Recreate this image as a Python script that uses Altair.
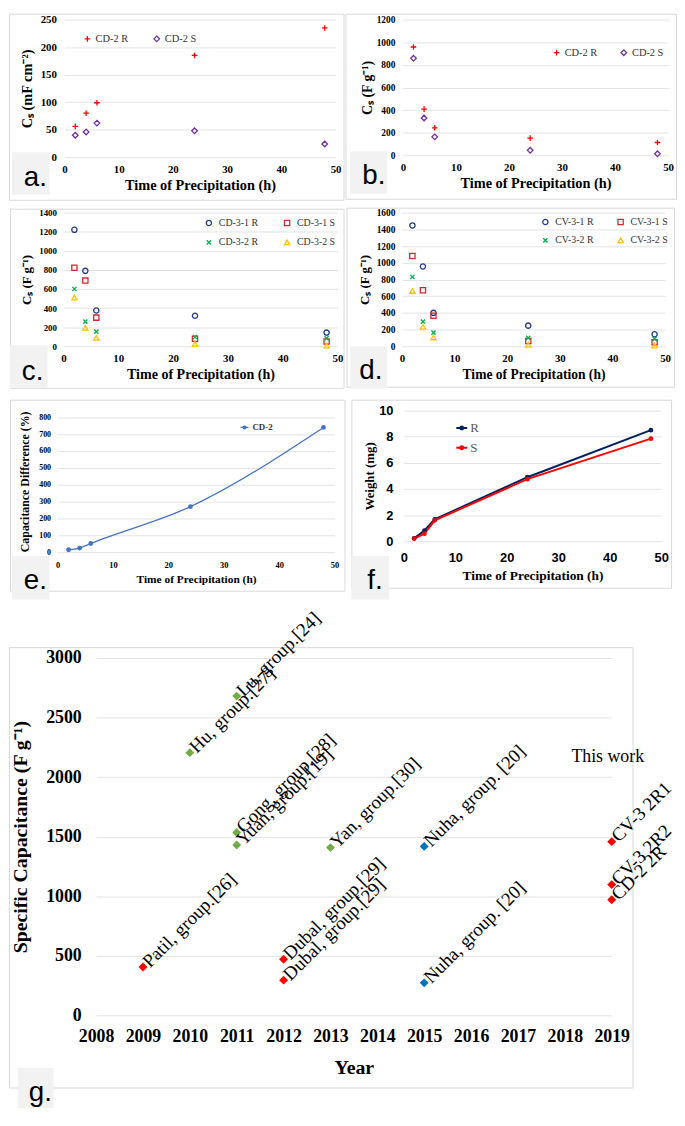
import altair as alt
import pandas as pd

SERIF = "Liberation Serif"
SANS = "Liberation Sans"
BLACK = "#000000"
GRID = "#e3e3e3"
FRAME = "#d9d9d9"
BOX = "#f2f2f2"

# ---------------- data ----------------
hours = [2, 4, 6, 24, 48]
time_ticks = [0, 10, 20, 30, 40, 50]
time_title = "Time of Precipitation (h)"

a_names = ["CD-2 R", "CD-2 S"]
a_R = [56, 80, 99, 185, 235]
a_S = [40, 46, 62, 48, 24]
a_ticks = [0, 50, 100, 150, 200, 250]

b_names = ["CD-2 R", "CD-2 S"]
b_R = [958, 408, 243, 152, 113]
b_S = [858, 330, 163, 44, 13]
b_ticks = [0, 200, 400, 600, 800, 1000, 1200]

c_names = ["CD-3-1 R", "CD-3-1 S", "CD-3-2 R", "CD-3-2 S"]
c_31R = [1220, 790, 375, 320, 143]
c_31S = [822, 688, 300, 78, 50]
c_32R = [600, 258, 153, 97, 85]
c_32S = [510, 193, 88, 22, 6]
c_ticks = [0, 200, 400, 600, 800, 1000, 1200, 1400]

d_names = ["CV-3-1 R", "CV-3-1 S", "CV-3-2 R", "CV-3-2 S"]
d_31R = [1447, 955, 400, 247, 143]
d_31S = [1082, 670, 365, 63, 48]
d_32R = [830, 295, 163, 100, 88]
d_32S = [662, 232, 105, 18, 8]
d_ticks = [0, 200, 400, 600, 800, 1000, 1200, 1400, 1600]

e_name = "CD-2"
e_diff = [14, 24, 51, 270, 740]
e_ticks = [0, 100, 200, 300, 400, 500, 600, 700, 800]

f_names = ["R", "S"]
f_R = [0.22, 0.82, 1.68, 4.9, 8.5]
f_S = [0.2, 0.58, 1.6, 4.75, 7.85]
f_ticks = [0, 2, 4, 6, 8, 10]

g_labels = ["Patil, group.[26]", "Hu, group.[27]", "Lu, group.[24]", "Gong, group.[28]",
            "Yuan, group.[19]", "Dubal, group.[29]", "Dubal, group.[29]", "Yan, group.[30]",
            "Nuha, group. [20]", "Nuha, group. [20]", "CV-3 2R1", "CV-3 2R2", "CD-2 2R"]
g_years = [2009, 2010, 2011, 2011, 2011, 2012, 2012, 2013, 2015, 2015, 2019, 2019, 2019]
g_values = [405, 2205, 2680, 1535, 1430, 470, 295, 1408, 1418, 272, 1458, 1097, 970]
g_kind = ["B", "A", "A", "A", "A", "B", "B", "A", "C", "C", "B", "B", "B"]
g_kinds = ["A", "B", "C"]
g_year_ticks = [2008, 2009, 2010, 2011, 2012, 2013, 2014, 2015, 2016, 2017, 2018, 2019]
g_ticks = [0, 500, 1000, 1500, 2000, 2500, 3000]
note_text = ["This work"]
note_year = [2019]
note_value = [2170]

PLUS = "M-1,0L1,0M0,-1L0,1"
XMARK = "M-0.8,-0.8L0.8,0.8M-0.8,0.8L0.8,-0.8"

ONE = pd.DataFrame({"k": [0]})


def long_df(names, series):
    rows = []
    for name, vals in zip(names, series):
        for h, v in zip(hours, vals):
            rows.append({"h": h, "v": v, "s": name})
    return pd.DataFrame(rows)


def rect_layer(x1, x2, y1, y2, **mark):
    return alt.Chart(ONE).mark_rect(**mark).encode(
        x=alt.value(x1), x2=alt.value(x2), y=alt.value(y1), y2=alt.value(y2))


def spacer():
    return rect_layer(0, 1, 0, 1, opacity=0).properties(width=1, height=1)


def decor(bounds, frame, lbox, letter, lpos):
    return [
        rect_layer(*bounds, opacity=0),
        rect_layer(*frame, fillOpacity=0, stroke=FRAME, strokeWidth=1),
        rect_layer(*lbox, color=BOX),
        alt.Chart(ONE).mark_text(text=letter, font=SANS, fontSize=28, align="left",
                                 baseline="alphabetic", color=BLACK).encode(
            x=alt.value(lpos[0]), y=alt.value(lpos[1])),
    ]


def x_axis(title, lab_size, title_size, title_y, values, lab_pad=6, lab_font=SERIF):
    return alt.Axis(title=title, values=values, format="d", labelFont=lab_font,
                    labelFontSize=lab_size, labelFontWeight="bold", labelColor=BLACK,
                    labelPadding=lab_pad, labelFlush=False, labelOverlap=False, ticks=False,
                    tickSize=0, domain=False, grid=False, titleFont=SERIF,
                    titleFontSize=title_size, titleFontWeight="bold", titleColor=BLACK,
                    titleY=title_y, titleBaseline="middle", titleAlign="center")


def y_axis(title, lab_size, title_size, title_x, h, values, lab_pad=8, lab_font=SERIF):
    return alt.Axis(title=title, values=values, format="d", labelFont=lab_font,
                    labelFontSize=lab_size, labelFontWeight="bold", labelColor=BLACK,
                    labelPadding=lab_pad, labelFlush=False, labelOverlap=False, ticks=False,
                    tickSize=0, domain=False, grid=True, gridColor=GRID, gridWidth=1,
                    titleFont=SERIF, titleFontSize=title_size, titleFontWeight="bold",
                    titleColor=BLACK, titleX=title_x, titleY=h / 2, titleAngle=270,
                    titleAlign="center", titleBaseline="middle")


def scatter_panel(names, series, colors, shapes, size, w, h, ymax, yticks, ytitle,
                  ylab, ytitle_size, ytitle_x, ylab_pad, xlab, xtitle_size, legend_kw, deco):
    df = long_df(names, series)
    leg = alt.Legend(title=None, orient="none", padding=0, labelFont=SERIF,
                     labelColor="#333333", symbolStrokeWidth=1.3, symbolSize=size, **legend_kw)
    pts = alt.Chart(df).mark_point(filled=False, strokeWidth=1.3, size=size, opacity=1).encode(
        x=alt.X("h:Q", scale=alt.Scale(domain=[0, 50], nice=False),
                axis=x_axis(time_title, xlab, xtitle_size, 29, time_ticks)),
        y=alt.Y("v:Q", scale=alt.Scale(domain=[0, ymax], nice=False),
                axis=y_axis(ytitle, ylab, ytitle_size, ytitle_x, h, yticks, ylab_pad)),
        color=alt.Color("s:N", scale=alt.Scale(domain=names, range=colors), legend=leg),
        shape=alt.Shape("s:N", scale=alt.Scale(domain=names, range=shapes), legend=leg),
    )
    return alt.layer(*deco, pts).properties(width=w, height=h)


# ---------------- panel a ----------------
pa = scatter_panel(
    a_names, [a_R, a_S], ["#FF0000", "#7030A0"], [PLUS, "diamond"], 32, 274, 139, 250, a_ticks,
    "Cₛ (mF cm⁻²)", 11, 14.5, -37, 8, 11, 14.5,
    dict(legendX=18, legendY=14, direction="horizontal", labelFontSize=10.5, labelOffset=3,
         columnPadding=22),
    decor((-56, 284, -6, 189), (-55.5, 282.5, -5.5, 182.5), (-53, -15, 134, 177), "a.", (-41, 168)))

# ---------------- panel b ----------------
pb = scatter_panel(
    b_names, [b_R, b_S], ["#FF0000", "#7030A0"], [PLUS, "diamond"], 32, 268, 137, 1200, b_ticks,
    "Cₛ (F g⁻¹)", 9.5, 14, -36, 8, 11, 14.5,
    dict(legendX=150, legendY=28, direction="horizontal", labelFontSize=10.5, labelOffset=3,
         columnPadding=20),
    decor((-58, 277, -6, 189), (-57.5, 276.5, -5.5, 181.5), (-53, -16, 133, 176), "b.", (-41, 166)))

# ---------------- panel c ----------------
pc = scatter_panel(
    c_names, [c_31R, c_31S, c_32R, c_32S], ["#203A8F", "#D9262E", "#00B050", "#FFC000"],
    ["circle", "square", XMARK, "triangle-up"], 28, 277, 135, 1400, c_ticks,
    "Cₛ (F g⁻¹)", 9, 13, -37, 7, 11, 14.2,
    dict(legendX=142, legendY=5, direction="horizontal", columns=2, labelFontSize=10,
         labelOffset=5, columnPadding=23, rowPadding=9),
    decor((-55, 286, -6, 188), (-53.5, 283.5, -3.5, 177.5), (-54, -16, 134, 177), "c.", (-42, 169)))

# ---------------- panel d ----------------
pd_ = scatter_panel(
    d_names, [d_31R, d_31S, d_32R, d_32S], ["#203A8F", "#D9262E", "#00B050", "#FFC000"],
    ["circle", "square", XMARK, "triangle-up"], 28, 266, 135, 1600, d_ticks,
    "Cₛ (F g⁻¹)", 9.5, 13, -38, 7, 11, 13.7,
    dict(legendX=140, legendY=4, direction="horizontal", columns=2, labelFontSize=10,
         labelOffset=5, columnPadding=21, rowPadding=8),
    decor((-56, 278, -6, 188), (-55.5, 275.5, -4.5, 176.5), (-52, -15, 135, 178), "d.", (-43, 168)))

# ---------------- panel e ----------------
E_W, E_H = 280, 143
e_df = pd.DataFrame({"h": hours, "v": e_diff, "s": [e_name] * len(hours)})
e_x = alt.X("h:Q", scale=alt.Scale(domain=[0, 50], nice=False),
            axis=x_axis(time_title, 8.5, 11.5, 28, time_ticks, lab_pad=9))
e_y = alt.Y("v:Q", scale=alt.Scale(domain=[0, 840], nice=False),
            axis=y_axis("Capacitance Difference (%)", 8, 12, -33, E_H, e_ticks, 7))
e_scale = alt.Scale(domain=[e_name], range=["#4472C4"])
E_SYM = ("M-1,0L1,0M-0.35,0A0.35,0.35 0 1,1 0.35,0A0.35,0.35 0 1,1 -0.35,0"
         "M-0.12,0A0.12,0.12 0 1,1 0.12,0A0.12,0.12 0 1,1 -0.12,0")
e_leg = alt.Legend(title=None, orient="none", legendX=184, legendY=12, padding=0,
                   symbolType=E_SYM, symbolSize=64, symbolStrokeWidth=1.3,
                   labelFont=SERIF, labelFontSize=9, labelFontWeight="bold",
                   labelColor="#333333", labelOffset=3)
e_line = alt.Chart(e_df).mark_line(interpolate="monotone", strokeWidth=1.3).encode(
    x=e_x, y=e_y, color=alt.Color("s:N", scale=e_scale, legend=e_leg))
e_pts = alt.Chart(e_df).mark_point(filled=False, size=6, strokeWidth=2.4, opacity=1).encode(
    x=e_x, y=e_y, color=alt.Color("s:N", scale=e_scale, legend=e_leg))
pe = alt.layer(*decor((-49, 297, -12, 192), (-47.5, 290.5, -10.5, 182.5), (-46, -8, 147, 191),
                      "e.", (-34, 180)), e_line, e_pts).properties(width=E_W, height=E_H)

# ---------------- panel f ----------------
F_W, F_H = 260, 132
f_df = long_df(f_names, [f_R, f_S])
f_x = alt.X("h:Q", scale=alt.Scale(domain=[0, 50], nice=False),
            axis=x_axis(time_title, 13, 13.5, 35, time_ticks, lab_pad=11, lab_font=SANS))
f_y = alt.Y("v:Q", scale=alt.Scale(domain=[0, 10], nice=False),
            axis=y_axis("Weight (mg)", 13, 13, -35, F_H, f_ticks, 11, lab_font=SANS))
f_scale = alt.Scale(domain=f_names, range=["#002060", "#FF0000"])
F_SYM = ("M-1,0L1,0M-0.27,0A0.27,0.27 0 1,1 0.27,0A0.27,0.27 0 1,1 -0.27,0"
         "M-0.08,0A0.08,0.08 0 1,1 0.08,0A0.08,0.08 0 1,1 -0.08,0")
f_leg = alt.Legend(title=None, orient="none", legendX=52, legendY=11, padding=0,
                   direction="vertical", symbolType=F_SYM, symbolSize=121, symbolStrokeWidth=2,
                   labelFont=SERIF, labelFontSize=13, labelColor="#595959", labelOffset=2,
                   rowPadding=6)
f_line = alt.Chart(f_df).mark_line(strokeWidth=2).encode(
    x=f_x, y=f_y, color=alt.Color("s:N", scale=f_scale, legend=f_leg))
f_pts = alt.Chart(f_df).mark_point(filled=False, size=4, strokeWidth=2.8, opacity=1).encode(
    x=f_x, y=f_y, color=alt.Color("s:N", scale=f_scale, legend=f_leg))
pf = alt.layer(*decor((-53, 276, -12, 192), (-52.5, 270.5, -10.5, 179.5), (-53, -15, 147, 191),
                      "f.", (-37, 180)), f_line, f_pts).properties(width=F_W, height=F_H)

# ---------------- panel g ----------------
G_W, G_H = 521, 361
g_df = pd.DataFrame({"year": g_years, "cap": g_values, "label": g_labels, "kind": g_kind})
note_df = pd.DataFrame({"year": note_year, "cap": note_value, "label": note_text})
g_x = alt.X("year:Q", scale=alt.Scale(domain=[2008, 2019], nice=False),
            axis=x_axis("Year", 18, 20, 53, g_year_ticks, lab_pad=13))
g_y = alt.Y("cap:Q", scale=alt.Scale(domain=[0, 3000], nice=False),
            axis=y_axis("Specific Capacitance (F g⁻¹)", 18, 20, -76, G_H, g_ticks, 15))
g_pts = alt.Chart(g_df).mark_point(filled=True, shape="diamond", size=81, opacity=1).encode(
    x=g_x, y=g_y,
    color=alt.Color("kind:N", scale=alt.Scale(domain=g_kinds, range=["#70AD47", "#FF0000", "#0070C0"]),
                    legend=None))
g_txt = alt.Chart(g_df).mark_text(font=SERIF, fontSize=19, angle=315, align="left",
                                  baseline="middle", dx=4, color=BLACK).encode(
    x=g_x, y=g_y, text="label:N")
g_note = alt.Chart(note_df).mark_text(font=SERIF, fontSize=18, align="center",
                                      baseline="middle", dx=-4, color=BLACK).encode(
    x=g_x, y=g_y, text="label:N")
pg = alt.layer(*decor((-88, 587, -58, 457), (-87.5, 542.5, -10.5, 434.5), (-79, -43, 414, 455),
                      "g.", (-68, 448)), g_pts, g_txt, g_note).properties(width=G_W, height=G_H)

IND = dict(color="independent", shape="independent")
row1 = alt.hconcat(spacer(), pa, pb, spacing=0).resolve_scale(**IND).resolve_legend(**IND)
row2 = alt.hconcat(spacer(), pc, pd_, spacing=0).resolve_scale(**IND).resolve_legend(**IND)
row3 = alt.hconcat(spacer(), pe, pf, spacing=0).resolve_scale(**IND).resolve_legend(**IND)
row4 = alt.hconcat(spacer(), pg, spacing=0).resolve_scale(**IND).resolve_legend(**IND)

chart = (alt.vconcat(row1, row2, row3, row4, spacing=0, padding=0)
         .resolve_scale(**IND).resolve_legend(**IND)
         .configure_view(strokeWidth=0))

chart.save("out.html", embed_options={"renderer": "svg", "actions": False})
